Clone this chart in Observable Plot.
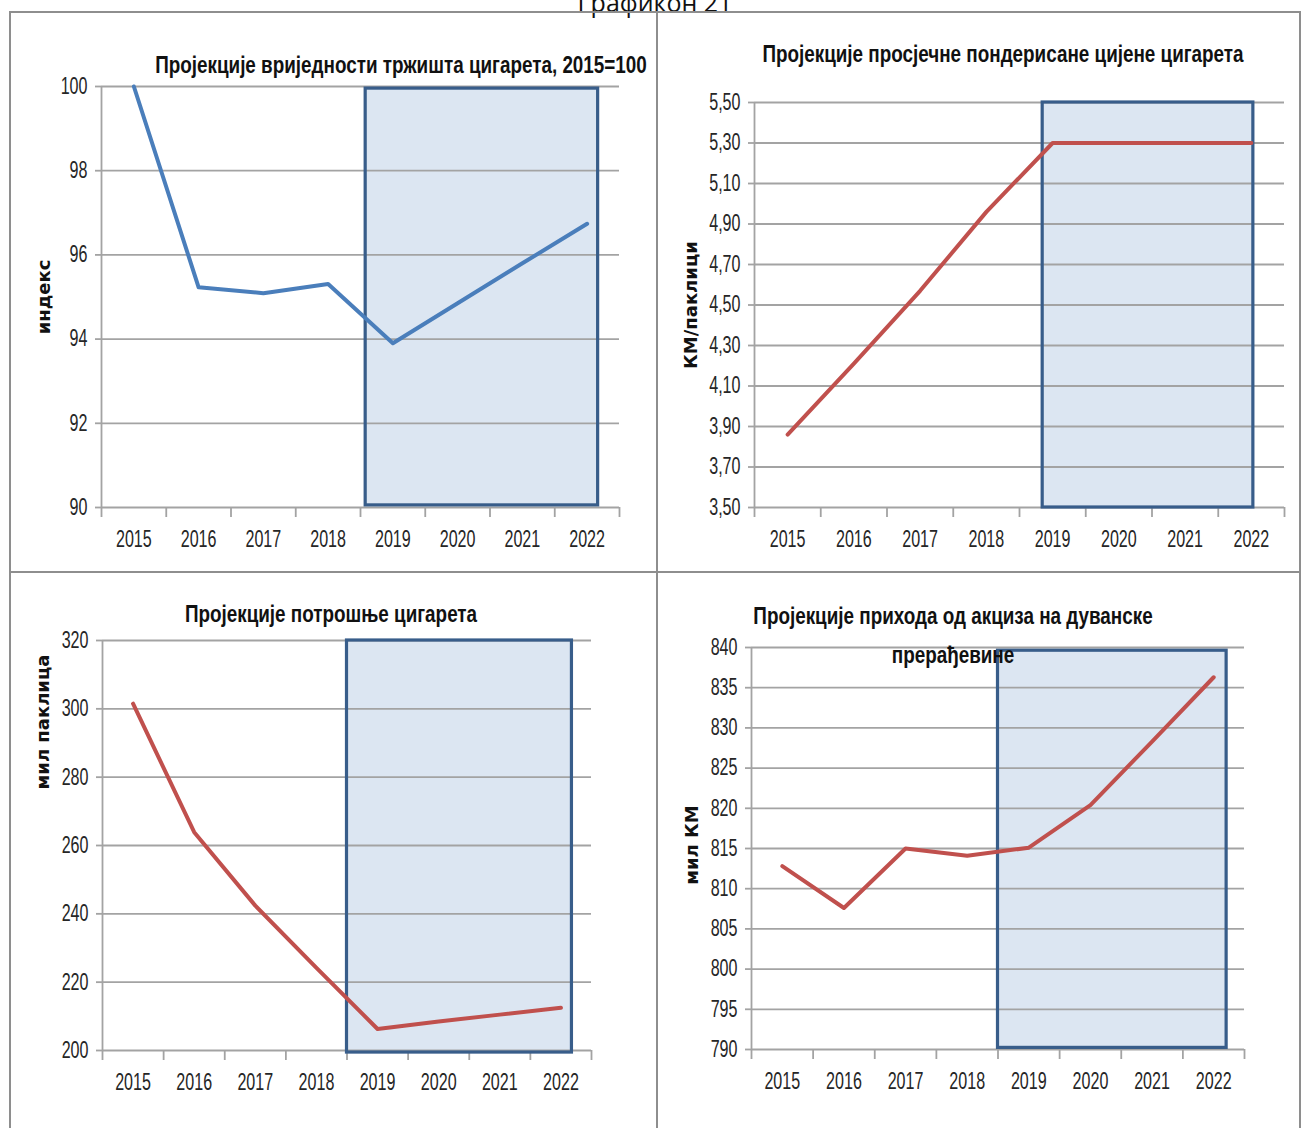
<!DOCTYPE html>
<html>
<head>
<meta charset="utf-8">
<script src="https://cdn.jsdelivr.net/npm/d3@7"></script>
<script src="https://cdn.jsdelivr.net/npm/@observablehq/plot@0.6"></script>
<style>
  html, body { margin: 0; padding: 0; background: #fff; }
  #page { position: relative; width: 1301px; height: 1128px; overflow: hidden; background: #fff; }
  .line { position: absolute; background: #8e8e8e; }
  .title { position: absolute; white-space: nowrap; font-weight: bold; font-size: 23px; color: #111; line-height: 1; }
  .ylab { position: absolute; white-space: nowrap; font-family: "DejaVu Sans", sans-serif; font-weight: bold; font-size: 18px; color: #111; line-height: 1; }
  .panel { position: absolute; }
  #caption { position: absolute; left: 655px; top: -10px; transform: translateX(-50%); font-family: "Open Sans", "Noto Sans", sans-serif; font-size: 25px; color: #111; line-height: 1; white-space: nowrap; }
</style>
</head>
<body>
<div id="page">
  <div id="caption">Графикон 21</div>
</div>
<script>
// ---------- data ----------
const years = [2015, 2016, 2017, 2018, 2019, 2020, 2021, 2022];
const marketIndex = [100, 95.23, 95.09, 95.31, 93.90, 94.85, 95.80, 96.74];
const avgPrice = [3.86, 4.21, 4.57, 4.96, 5.30, 5.30, 5.30, 5.30];
const consumption = [301.5, 263.9, 242.4, 224.2, 206.3, 208.5, 210.5, 212.5];
const exciseRevenue = [812.8, 807.6, 815.0, 814.1, 815.1, 820.4, 828.3, 836.3];

const ticksIndex = [90, 92, 94, 96, 98, 100];
const ticksPrice = [3.5, 3.7, 3.9, 4.1, 4.3, 4.5, 4.7, 4.9, 5.1, 5.3, 5.5];
const ticksConsumption = [200, 220, 240, 260, 280, 300, 320];
const ticksRevenue = [790, 795, 800, 805, 810, 815, 820, 825, 830, 835, 840];

// projection period (shaded box) in data units: [x start, x end, y low, y high]
const projIndex = [2018.58, 2022.17, 90.05, 99.95];
const projPrice = [2018.85, 2022.03, 3.5, 5.5];
const projConsumption = [2018.5, 2022.18, 199.4, 320];
const projRevenue = [2018.5, 2022.21, 790.2, 839.6];

const titles = [
  "Пројекције вриједности тржишта цигарета, 2015=100",
  "Пројекције просјечне пондерисане цијене цигарета",
  "Пројекције потрошње цигарета",
  "Пројекције прихода од акциза на дуванске",
  "прерађевине"
];
const yLabels = ["индекс", "КМ/паклици", "мил паклица", "мил КМ"];

// ---------- fonts ----------
function hasFont(name) {
  const c = document.createElement("canvas").getContext("2d");
  const s = "abcdefghij0123456789";
  c.font = "40px monospace";
  const w0 = c.measureText(s).width;
  c.font = `40px "${name}", monospace`;
  return c.measureText(s).width !== w0;
}
const NARROW_OK = hasFont("Liberation Sans Narrow");
const NARROW = NARROW_OK ? '"Liberation Sans Narrow", sans-serif' : '"Liberation Sans", Arial, sans-serif';
const SQUEEZE = NARROW_OK ? 1 : 0.82;
const TICK_SQUEEZE = NARROW_OK ? 0.86 : 0.7;

const page = document.getElementById("page");

// ---------- frame lines ----------
function hline(x1, x2, y, w = 2) { const d = document.createElement("div"); d.className = "line"; Object.assign(d.style, {left: x1 + "px", top: y + "px", width: (x2 - x1) + "px", height: w + "px"}); page.appendChild(d); }
function vline(x, y1, y2, w = 2) { const d = document.createElement("div"); d.className = "line"; Object.assign(d.style, {left: x + "px", top: y1 + "px", width: w + "px", height: (y2 - y1) + "px"}); page.appendChild(d); }
hline(9, 1301, 11);
hline(9, 1301, 571);
vline(9, 11, 1128);
vline(656, 11, 1128);
vline(1299, 11, 1128);

// ---------- panels ----------
const GRID = "#a3a3a3";
const xBounds = [2014.5, 2015.5, 2016.5, 2017.5, 2018.5, 2019.5, 2020.5, 2021.5, 2022.5];

function panel(cfg) {
  const [px1, px2, py1, py2] = cfg.proj;
  const box = [{x1: px1, x2: px2, y1: py1, y2: py2}];
  const svg = Plot.plot({
    width: cfg.width, height: cfg.height,
    marginLeft: cfg.ml, marginRight: cfg.mr, marginTop: cfg.mt, marginBottom: cfg.mb,
    style: {fontFamily: NARROW, fontSize: "23px", color: "#262626", background: "transparent", overflow: "visible"},
    x: {type: "linear", domain: [2014.5, 2022.5], axis: null},
    y: {domain: cfg.yDomain, axis: null},
    marks: [
      Plot.rect(box, {x1: "x1", x2: "x2", y1: "y1", y2: "y2", fill: "#dce6f2"}),
      Plot.gridY(cfg.yTicks, {stroke: GRID, strokeOpacity: 1, strokeWidth: 1.8}),
      Plot.ruleX([2014.5], {stroke: GRID, strokeWidth: 1.8}),
      Plot.axisY(cfg.yTicks, {tickSize: 6, tickPadding: 8, tickFormat: cfg.fmt, stroke: GRID, strokeWidth: 1.8, fill: "#262626", fontSize: 23}),
      Plot.axisX(xBounds, {tickSize: 10, tickFormat: () => "", stroke: GRID, strokeWidth: 1.8}),
      Plot.axisX(years, {tickSize: 0, tickPadding: 23, tickFormat: d => String(d), fill: "#262626", fontSize: 23}),
      Plot.rect(box, {x1: "x1", x2: "x2", y1: "y1", y2: "y2", fill: "none", stroke: "#385d8a", strokeWidth: 3.2}),
      Plot.line(cfg.values, {x: (d, i) => years[i], y: d => d, stroke: cfg.color, strokeWidth: 4, strokeLinejoin: "round", strokeLinecap: "round"})
    ]
  });
  svg.querySelectorAll("text").forEach(t => {
    const tr = t.getAttribute("transform") || "";
    t.setAttribute("transform", tr + ` scale(${TICK_SQUEEZE},1)`);
  });
  const wrap = document.createElement("div");
  wrap.className = "panel";
  wrap.style.left = cfg.left + "px";
  wrap.style.top = cfg.top + "px";
  wrap.appendChild(svg);
  page.appendChild(wrap);
}

const fmtInt = d => String(d);
const fmtComma = d => d3.format(".2f")(d).replace(".", ",");

panel({left: 11, top: 13, width: 645, height: 558, ml: 90, mr: 37, mt: 73, mb: 64,
  values: marketIndex, color: "#4a7ebb", yDomain: [90, 100], yTicks: ticksIndex, fmt: fmtInt, proj: projIndex});
panel({left: 657, top: 13, width: 642, height: 558, ml: 97, mr: 15, mt: 89, mb: 64,
  values: avgPrice, color: "#c0504d", yDomain: [3.5, 5.5], yTicks: ticksPrice, fmt: fmtComma, proj: projPrice});
panel({left: 11, top: 573, width: 645, height: 555, ml: 91, mr: 65, mt: 67, mb: 78,
  values: consumption, color: "#c0504d", yDomain: [200, 320], yTicks: ticksConsumption, fmt: fmtInt, proj: projConsumption});
panel({left: 657, top: 573, width: 642, height: 555, ml: 94, mr: 55, mt: 74, mb: 79,
  values: exciseRevenue, color: "#c0504d", yDomain: [790, 840], yTicks: ticksRevenue, fmt: fmtInt, proj: projRevenue});

// ---------- titles ----------
function title(text, cx, cy) {
  const d = document.createElement("div");
  d.className = "title";
  d.textContent = text;
  d.style.fontFamily = NARROW;
  d.style.left = cx + "px";
  d.style.top = cy + "px";
  d.style.transform = `translate(-50%, -50%) scale(${SQUEEZE},1)`;
  page.appendChild(d);
}
title(titles[0], 401, 65);
title(titles[1], 1003, 54);
title(titles[2], 331, 614);
title(titles[3], 953, 616);
title(titles[4], 953, 655);

function ylab(text, cx, cy) {
  const d = document.createElement("div");
  d.className = "ylab";
  d.textContent = text;
  d.style.left = cx + "px";
  d.style.top = cy + "px";
  d.style.transform = "translate(-50%, -50%) rotate(-90deg)";
  page.appendChild(d);
}
ylab(yLabels[0], 44, 297);
ylab(yLabels[1], 691, 305);
ylab(yLabels[2], 43, 722);
ylab(yLabels[3], 692, 845);
</script>
</body>
</html>
